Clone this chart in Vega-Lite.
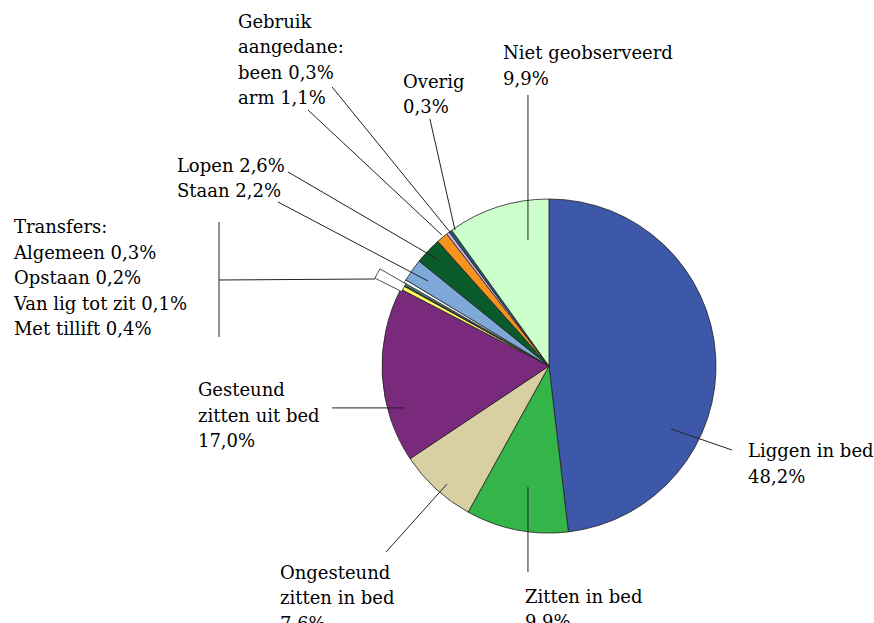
{
  "$schema": "https://vega.github.io/schema/vega-lite/v6.json",
  "autosize": {"type": "none"},
  "width": 874,
  "height": 623,
  "padding": 0,
  "background": "white",
  "config": {"view": {"stroke": null}},
  "datasets": {
    "slices": [
      {"cat": "Liggen in bed", "value": 48.2, "order": 1},
      {"cat": "Zitten in bed", "value": 9.9, "order": 2},
      {"cat": "Ongesteund zitten in bed", "value": 7.6, "order": 3},
      {"cat": "Gesteund zitten uit bed", "value": 17.0, "order": 4},
      {"cat": "Met tillift", "value": 0.4, "order": 5},
      {"cat": "Van lig tot zit", "value": 0.1, "order": 6},
      {"cat": "Opstaan", "value": 0.2, "order": 7},
      {"cat": "Algemeen", "value": 0.3, "order": 8},
      {"cat": "Staan", "value": 2.2, "order": 9},
      {"cat": "Lopen", "value": 2.6, "order": 10},
      {"cat": "arm", "value": 1.1, "order": 11},
      {"cat": "been", "value": 0.3, "order": 12},
      {"cat": "Overig", "value": 0.3, "order": 13},
      {"cat": "Niet geobserveerd", "value": 9.9, "order": 14}
    ],
    "labels": [
      {"text": "Liggen in bed\n48,2%", "lx": 1.192, "ly": -0.545},
      {"text": "Zitten in bed\n9,9%", "lx": -0.144, "ly": -1.419},
      {"text": "Ongesteund\nzitten in bed\n7,6%", "lx": -1.611, "ly": -1.275},
      {"text": "Gesteund\nzitten uit bed\n17,0%", "lx": -2.102, "ly": -0.18},
      {"text": "Transfers:\nAlgemeen 0,3%\nOpstaan 0,2%\nVan lig tot zit 0,1%\nMet tillift 0,4%", "lx": -3.204, "ly": 0.796},
      {"text": "Lopen 2,6%\nStaan 2,2%", "lx": -2.228, "ly": 1.162},
      {"text": "Gebruik\naangedane:\nbeen 0,3%\narm 1,1%", "lx": -1.862, "ly": 2.024},
      {"text": "Overig\n0,3%", "lx": -0.874, "ly": 1.665},
      {"text": "Niet geobserveerd\n9,9%", "lx": -0.275, "ly": 1.838}
    ],
    "leaders": [
      {"name": "Liggen", "x1": 1.096, "y1": -0.503, "x2": 0.731, "y2": -0.377},
      {"name": "Zitten", "x1": -0.126, "y1": -1.234, "x2": -0.126, "y2": -0.725},
      {"name": "Ongesteund", "x1": -0.976, "y1": -1.114, "x2": -0.611, "y2": -0.707},
      {"name": "Gesteund", "x1": -1.299, "y1": -0.251, "x2": -0.862, "y2": -0.251},
      {"name": "Transfers bracket", "x1": -1.976, "y1": 0.862, "x2": -1.976, "y2": 0.174},
      {"name": "Transfers", "x1": -1.976, "y1": 0.515, "x2": -1.042, "y2": 0.521},
      {"name": "Lopen", "x1": -1.563, "y1": 1.162, "x2": -0.671, "y2": 0.641},
      {"name": "Staan", "x1": -1.623, "y1": 0.982, "x2": -0.725, "y2": 0.509},
      {"name": "arm", "x1": -1.443, "y1": 1.533, "x2": -0.641, "y2": 0.784},
      {"name": "been", "x1": -1.299, "y1": 1.671, "x2": -0.593, "y2": 0.802},
      {"name": "Overig", "x1": -0.713, "y1": 1.479, "x2": -0.563, "y2": 0.814},
      {"name": "Niet", "x1": -0.126, "y1": 1.623, "x2": -0.126, "y2": 0.754}
    ]
  },
  "layer": [
    {
      "data": {"name": "slices"},
      "transform": [
        {"stack": "value", "groupby": [], "sort": [{"field": "order", "order": "ascending"}], "as": ["v0", "v1"], "offset": "normalize"}
      ],
      "mark": {"type": "arc", "outerRadius": 167, "stroke": "#222222", "strokeWidth": 0.8},
      "encoding": {
        "x": {"datum": 0, "type": "quantitative", "scale": {"domain": [-3.2874, 1.9461], "nice": false, "zero": false}, "axis": null},
        "y": {"datum": 0, "type": "quantitative", "scale": {"domain": [-1.5389, 2.1916], "nice": false, "zero": false}, "axis": null},
        "theta": {"field": "v0", "type": "quantitative", "scale": {"domain": [0, 1]}},
        "theta2": {"field": "v1"},
        "color": {
          "field": "cat",
          "type": "nominal",
          "legend": null,
          "scale": {
            "domain": ["Liggen in bed", "Zitten in bed", "Ongesteund zitten in bed", "Gesteund zitten uit bed", "Met tillift", "Van lig tot zit", "Opstaan", "Algemeen", "Staan", "Lopen", "arm", "been", "Overig", "Niet geobserveerd"],
            "range": ["#3D57A9", "#33B54A", "#D8D0A2", "#7A2A7C", "#FFFF66", "#E04848", "#3A9A9A", "#FFFFFF", "#7EA8D8", "#0B5A2C", "#F7941D", "#D4ACEC", "#1D5D6E", "#CCFFCC"]
          }
        }
      }
    },
    {
      "data": {"name": "slices"},
      "transform": [
        {"stack": "value", "groupby": [], "sort": [{"field": "order", "order": "ascending"}], "as": ["v0", "v1"], "offset": "normalize"},
        {"filter": "datum.cat === 'Algemeen'"}
      ],
      "mark": {"type": "arc", "innerRadius": 165, "outerRadius": 195, "thetaOffset": -0.055, "theta2Offset": -0.02, "fill": "#FFFFFF", "stroke": "#222222", "strokeWidth": 0.8},
      "encoding": {
        "x": {"datum": 0, "type": "quantitative", "axis": null},
        "y": {"datum": 0, "type": "quantitative", "axis": null},
        "theta": {"field": "v0", "type": "quantitative", "scale": {"domain": [0, 1]}},
        "theta2": {"field": "v1"}
      }
    },
    {
      "data": {"name": "leaders"},
      "mark": {"type": "rule", "color": "#222222", "strokeWidth": 1},
      "encoding": {
        "x": {"field": "x1", "type": "quantitative", "axis": null},
        "y": {"field": "y1", "type": "quantitative", "axis": null},
        "x2": {"field": "x2"},
        "y2": {"field": "y2"}
      }
    },
    {
      "data": {"name": "labels"},
      "mark": {"type": "text", "align": "left", "baseline": "alphabetic", "font": "DejaVu Serif", "fontSize": 18, "lineHeight": 25.5, "lineBreak": "\n", "color": "#000000"},
      "encoding": {
        "x": {"field": "lx", "type": "quantitative", "axis": null},
        "y": {"field": "ly", "type": "quantitative", "axis": null},
        "text": {"field": "text"}
      }
    }
  ]
}
